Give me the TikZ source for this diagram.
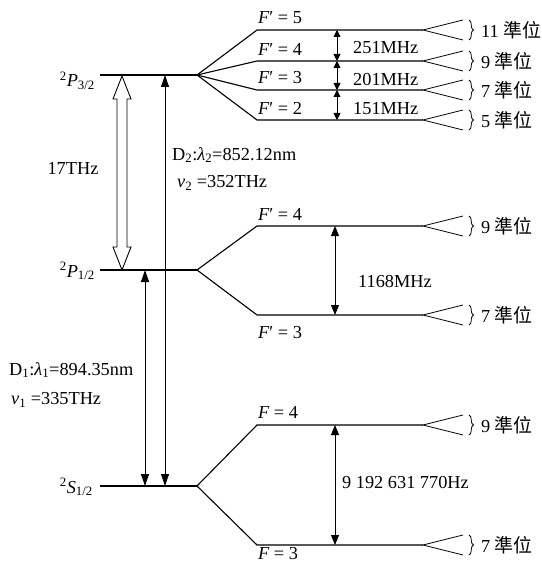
\documentclass[tikz,border=0pt]{standalone}
\usepackage{fontspec}
\setmainfont{Liberation Serif}
\newfontfamily\cjk{Noto Sans CJK TC}
\usetikzlibrary{arrows.meta,decorations.pathreplacing}
\begin{document}
\begin{tikzpicture}[x=1pt,y=-1pt,
  lev/.style={line width=1.1pt},
  fan/.style={line width=0.8pt},
  bigarr/.style={line width=0.9pt,{Triangle[length=12pt,width=8pt]}-{Triangle[length=12pt,width=8pt]}},
  midarr/.style={line width=0.9pt,{Triangle[length=10pt,width=8pt]}-{Triangle[length=10pt,width=8pt]}},
  smarr/.style={line width=0.9pt,{Triangle[length=7pt,width=7pt]}-{Triangle[length=7pt,width=7pt]}},
  brc/.style={line width=0.8pt,decorate,decoration={brace,amplitude=4.5pt}},
  lbl/.style={font=\fontsize{18.3}{21}\selectfont, inner sep=0pt},
]
\useasboundingbox (0,0) rectangle (541,564);
% main levels
\foreach \n/\y in {P3/75, P1/270, S/486} {
  \coordinate (\n-L) at (100,\y);
  \coordinate (\n-R) at (197,\y);
  \draw[lev] (\n-L) -- (\n-R);
}
% hyperfine sublevels
\foreach \k/\lev/\y/\t/\lab/\dy in {
  a/P3/30/11/{\itshape F}′ = 5/-12,
  b/P3/61/9/{\itshape F}′ = 4/-12,
  c/P3/90/7/{\itshape F}′ = 3/-12,
  d/P3/120/5/{\itshape F}′ = 2/-12,
  e/P1/226/9/{\itshape F}′ = 4/-12,
  f/P1/315/7/{\itshape F}′ = 3/18,
  g/S/425/9/{\itshape F} = 4/-13,
  h/S/545/7/{\itshape F} = 3/9} {
  \coordinate (\k-s) at (257,\y);
  \coordinate (\k-e) at (423,\y);
  \coordinate (\k-u) at (463,\y-10);
  \coordinate (\k-d) at (463,\y+10);
  \coordinate (\k-bu) at (469,\y-10);
  \coordinate (\k-bd) at (469,\y+10);
  \draw[lev] (\lev-R) -- (\k-s) -- (\k-e);
  \draw[fan] (\k-u) -- (\k-e) -- (\k-d);
  \draw[brc] (\k-bu) -- (\k-bd);
  \node[lbl,anchor=west] (\k-t) at (481,\y) {\t\ {\cjk\fontsize{19}{21}\selectfont 準位}};
  \node[lbl,anchor=west] (\k-l) at (258,\y+\dy) {\lab};
}
% hyperfine spacing arrows
\coordinate (ab1) at (337,30); \coordinate (ab2) at (337,61);
\coordinate (bc2) at (337,90); \coordinate (cd2) at (337,120);
\draw[smarr] (ab1) -- (ab2);
\draw[smarr] (ab2) -- (bc2);
\draw[smarr] (bc2) -- (cd2);
\node[lbl,anchor=west] (m1) at (353,48) {251MHz};
\node[lbl,anchor=west] (m2) at (353,80) {201MHz};
\node[lbl,anchor=west] (m3) at (353,109) {151MHz};
\coordinate (ef1) at (335,226); \coordinate (ef2) at (335,315);
\draw[midarr] (ef1) -- (ef2);
\node[lbl,anchor=west] (m4) at (358,282) {1168MHz};
\coordinate (gh1) at (335,425); \coordinate (gh2) at (335,545);
\draw[midarr] (gh1) -- (gh2);
\node[lbl,anchor=west] (m5) at (342,482) {9 192 631 770Hz};
% left labels
\node[lbl,anchor=base east] (lP3) at (95,87) {\textsuperscript{2}{\itshape P}\textsubscript{3/2}};
\node[lbl,anchor=base east] (lP1) at (95,277) {\textsuperscript{2}{\itshape P}\textsubscript{1/2}};
\node[lbl,anchor=base east] (lS) at (93,493) {\textsuperscript{2}{\itshape S}\textsubscript{1/2}};
% hollow fine-structure arrow
\draw[line width=0.9pt,fill=white] (122,76) -- (131,99) -- (127,99) -- (127,247) -- (131,247)
  -- (122,270) -- (113,247) -- (117,247) -- (117,99) -- (113,99) -- cycle;
\node[lbl] (fs) at (73,168) {17THz};
% D lines
\coordinate (D2t) at (165,75); \coordinate (D2b) at (165,486);
\coordinate (D1t) at (145,270); \coordinate (D1b) at (145,486);
\draw[bigarr] (D2b) -- (D2t);
\draw[bigarr] (D1b) -- (D1t);
\node[lbl,anchor=west] (d2a) at (172,155) {D\textsubscript{2}:{\itshape λ}\textsubscript{2}=852.12nm};
\node[lbl,anchor=west] (d2b) at (177,183) {{\itshape ν}\textsubscript{2} =352THz};
\node[lbl,anchor=west] (d1a) at (9,370) {D\textsubscript{1}:{\itshape λ}\textsubscript{1}=894.35nm};
\node[lbl,anchor=west] (d1b) at (11,400) {{\itshape ν}\textsubscript{1} =335THz};
\end{tikzpicture}
\end{document}
